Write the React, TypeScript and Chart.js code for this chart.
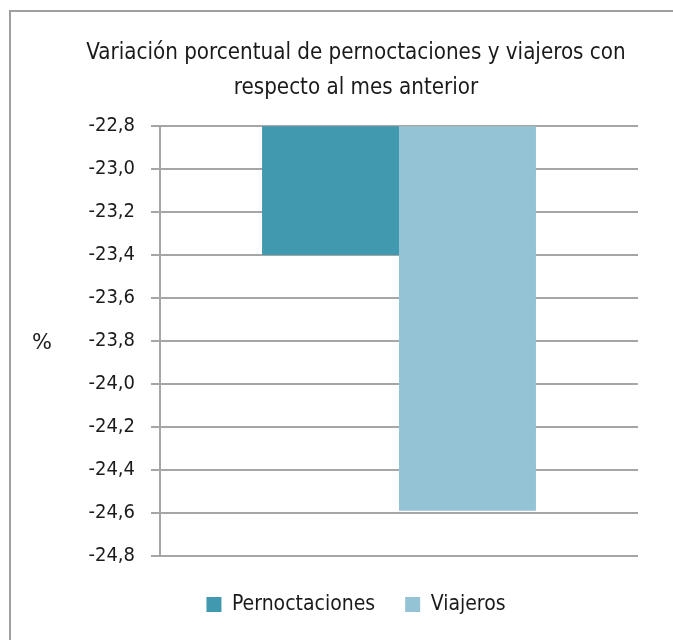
import React, { useEffect, useRef } from "react";
import { Chart, registerables } from "chart.js";

Chart.register(...registerables);

const TITLE_LINES = ["Variación porcentual de pernoctaciones y viajeros con", "respecto al mes anterior"];
const CATEGORIES = [""];
const SERIES_NAMES = ["Pernoctaciones", "Viajeros"];
const PERNOCTACIONES = [-23.4];
const VIAJEROS = [-24.59];
const Y_MIN = -24.8;
const Y_MAX = -22.8;
const Y_STEP = 0.2;
const Y_UNIT = "%";
const COLORS = ["#4199b0", "#93c3d5"];

const FONT = "'Liberation Sans Narrow', 'DejaVu Sans Condensed', sans-serif";

export default function App() {
  const ref = useRef<HTMLCanvasElement | null>(null);
  useEffect(() => {
    if (!ref.current) return;
    const unitPlugin = {
      id: "unitLabel",
      afterDraw(chart: any) {
        const ctx = chart.ctx;
        const area = chart.chartArea;
        ctx.save();
        ctx.font = "normal 21px 'DejaVu Sans', sans-serif";
        ctx.fillStyle = "#1a1a1a";
        ctx.textAlign = "center";
        ctx.textBaseline = "middle";
        ctx.fillText(Y_UNIT, 42, (area.top + area.bottom) / 2 + 2);
        ctx.restore();
      },
    };
    const chart = new Chart(ref.current, {
      type: "bar",
      data: {
        labels: CATEGORIES,
        datasets: [
          { label: SERIES_NAMES[0], data: PERNOCTACIONES, backgroundColor: COLORS[0] },
          { label: SERIES_NAMES[1], data: VIAJEROS, backgroundColor: COLORS[1] },
        ],
      },
      options: {
        responsive: false,
        animation: false,
        layout: { padding: { left: 74, right: 35, top: 0, bottom: 15 } },
        datasets: { bar: { barPercentage: 1, categoryPercentage: 0.573 } },
        plugins: {
          title: {
            display: true,
            text: TITLE_LINES,
            color: "#1a1a1a",
            font: { family: FONT, size: 22.2, weight: "normal", lineHeight: 1.58 },
            padding: { top: 36, bottom: 20 },
          },
          legend: {
            position: "bottom",
            labels: {
              color: "#1a1a1a",
              font: { family: FONT, size: 21 },
              boxWidth: 15,
              boxHeight: 15,
              padding: 30,
            },
          },
          tooltip: { enabled: false },
        },
        scales: {
          x: {
            grid: { display: false },
            border: { display: false },
            ticks: { display: false },
          },
          y: {
            min: Y_MIN,
            max: Y_MAX,
            afterFit: (s: any) => {
              s.width = 86;
            },
            ticks: {
              stepSize: Y_STEP,
              color: "#1a1a1a",
              padding: 16,
              font: { family: FONT, size: 20 },
              callback: (v: any) => Number(v).toFixed(1).replace(".", ","),
            },
            grid: { color: "#a6a6a6", lineWidth: 2, tickLength: 9 },
            border: { color: "#a6a6a6", width: 2 },
          },
        },
      },
      plugins: [unitPlugin],
    });
    return () => chart.destroy();
  }, []);
  return (
    <>
      <div
        style={{
          position: "fixed",
          left: 9,
          top: 10,
          width: 700,
          height: 700,
          border: "2px solid #9f9f9f",
          background: "#fff",
        }}
      />
      <canvas
        ref={ref}
        width={673}
        height={640}
        style={{ position: "fixed", left: 0, top: 0, width: 673, height: 640 }}
      />
    </>
  );
}
